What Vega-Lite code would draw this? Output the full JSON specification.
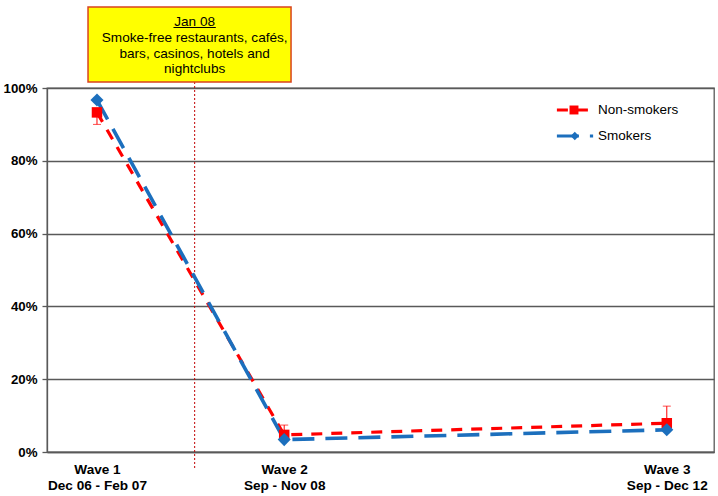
{
  "$schema": "https://vega.github.io/schema/vega-lite/v6.json",
  "width": 667,
  "height": 364,
  "autosize": {"type": "none"},
  "padding": {"left": 47, "top": 88, "right": 4, "bottom": 44},
  "background": "white",
  "config": {
    "font": "Liberation Sans",
    "view": {"stroke": "#595959", "strokeWidth": 1.3}
  },
  "datasets": {
    "survey": [
      {"wave": "Wave 1", "month": 12, "group": "Non-smokers", "value": 0.933, "err": 0.900},
      {"wave": "Wave 2", "month": 35, "group": "Non-smokers", "value": 0.047, "err": 0.074},
      {"wave": "Wave 3", "month": 82, "group": "Non-smokers", "value": 0.079, "err": 0.126},
      {"wave": "Wave 1", "month": 12, "group": "Smokers", "value": 0.967},
      {"wave": "Wave 2", "month": 35, "group": "Smokers", "value": 0.034},
      {"wave": "Wave 3", "month": 82, "group": "Smokers", "value": 0.061}
    ],
    "event": [
      {"month": 24, "date": "Jan 08", "desc": "Jan 08\nSmoke-free restaurants, cafés,\nbars, casinos, hotels and\nnightclubs"}
    ],
    "legend": [
      {"group": "Non-smokers"},
      {"group": "Smokers"}
    ]
  },
  "encoding": {
    "x": {
      "type": "quantitative",
      "scale": {"domain": [5.86, 87.8], "nice": false, "zero": false},
      "axis": {
        "title": null,
        "values": [12, 35, 82],
        "labelExpr": "datum.value == 12 ? ['Wave 1', 'Dec 06 - Feb 07'] : datum.value == 35 ? ['Wave 2', 'Sep - Nov 08'] : ['Wave 3', 'Sep - Dec 12']",
        "labelFont": "Liberation Sans",
        "labelFontSize": 13.6,
        "labelFontWeight": "bold",
        "labelColor": "#000000",
        "labelLineHeight": 16,
        "labelBaseline": "top",
        "labelPadding": 10,
        "labelFlush": false,
        "labelOverlap": false,
        "ticks": false,
        "grid": false,
        "domain": true,
        "domainColor": "#595959",
        "domainWidth": 1.3
      }
    },
    "y": {
      "type": "quantitative",
      "scale": {"domain": [0, 1], "nice": false},
      "axis": {
        "title": null,
        "values": [0, 0.2, 0.4, 0.6, 0.8, 1],
        "format": ".0%",
        "labelFont": "Liberation Sans",
        "labelFontSize": 13.3,
        "labelFontWeight": "bold",
        "labelColor": "#000000",
        "labelPadding": 5,
        "tickSize": 5,
        "tickColor": "#595959",
        "tickWidth": 1.3,
        "grid": true,
        "gridColor": "#595959",
        "gridWidth": 1.3,
        "domainColor": "#595959",
        "domainWidth": 1.3
      }
    }
  },
  "layer": [
    {
      "data": {"name": "event"},
      "mark": {"type": "rule", "color": "#c00000", "strokeWidth": 1, "strokeDash": [2, 2]},
      "encoding": {
        "x": {"field": "month", "type": "quantitative"},
        "y": {"datum": 1.0165},
        "y2": {"datum": -0.047}
      }
    },
    {
      "data": {"name": "survey"},
      "transform": [{"filter": "datum.group == 'Non-smokers'"}],
      "mark": {"type": "line", "color": "#ff0000", "strokeWidth": 3.2, "strokeDash": [11, 9]},
      "encoding": {
        "x": {"field": "month", "type": "quantitative"},
        "y": {"field": "value", "type": "quantitative"}
      }
    },
    {
      "data": {"name": "survey"},
      "transform": [{"filter": "datum.group == 'Smokers'"}],
      "mark": {"type": "line", "color": "#1c6fbd", "strokeWidth": 3.6, "strokeDash": [22, 11]},
      "encoding": {
        "x": {"field": "month", "type": "quantitative"},
        "y": {"field": "value", "type": "quantitative"}
      }
    },
    {
      "data": {"name": "survey"},
      "transform": [{"filter": "datum.group == 'Non-smokers'"}],
      "mark": {"type": "rule", "color": "#ff0000", "strokeWidth": 1},
      "encoding": {
        "x": {"field": "month", "type": "quantitative"},
        "y": {"field": "value", "type": "quantitative"},
        "y2": {"field": "err"}
      }
    },
    {
      "data": {"name": "survey"},
      "transform": [{"filter": "datum.group == 'Non-smokers'"}],
      "mark": {"type": "tick", "color": "#ff0000", "orient": "horizontal", "size": 8, "thickness": 1},
      "encoding": {
        "x": {"field": "month", "type": "quantitative"},
        "y": {"field": "err", "type": "quantitative"}
      }
    },
    {
      "data": {"name": "survey"},
      "transform": [{"filter": "datum.group == 'Non-smokers'"}],
      "mark": {"type": "point", "shape": "square", "filled": true, "color": "#ff0000", "size": 110, "opacity": 1},
      "encoding": {
        "x": {"field": "month", "type": "quantitative"},
        "y": {"field": "value", "type": "quantitative"}
      }
    },
    {
      "data": {"name": "survey"},
      "transform": [{"filter": "datum.group == 'Smokers'"}],
      "mark": {"type": "point", "shape": "diamond", "filled": true, "color": "#1c6fbd", "size": 170, "opacity": 1},
      "encoding": {
        "x": {"field": "month", "type": "quantitative"},
        "y": {"field": "value", "type": "quantitative"}
      }
    },
    {
      "data": {"name": "event"},
      "mark": {"type": "rect", "fill": "#ffff00", "stroke": "#d9431e", "strokeWidth": 1.5},
      "encoding": {
        "x": {"datum": 10.9},
        "x2": {"datum": 35.84},
        "y": {"datum": 1.0165},
        "y2": {"datum": 1.2225}
      }
    },
    {
      "data": {"name": "event"},
      "mark": {"type": "text", "font": "Liberation Sans", "fontSize": 13.6, "color": "#000000", "align": "center", "baseline": "middle", "lineBreak": "\n", "lineHeight": 15.9},
      "encoding": {
        "x": {"field": "month", "type": "quantitative"},
        "y": {"datum": 1.1821},
        "text": {"field": "desc"}
      }
    },
    {
      "data": {"name": "event"},
      "mark": {"type": "rule", "color": "#000000", "strokeWidth": 1},
      "encoding": {
        "x": {"datum": 21.4},
        "x2": {"datum": 26.6},
        "y": {"datum": 1.1662}
      }
    },
    {
      "data": {"name": "legend"},
      "transform": [{"filter": "datum.group == 'Non-smokers'"}],
      "mark": {"type": "rule", "color": "#ff0000", "strokeWidth": 3, "strokeDash": [11, 9]},
      "encoding": {
        "x": {"datum": 68.5},
        "x2": {"datum": 72.5},
        "y": {"datum": 0.9396}
      }
    },
    {
      "data": {"name": "legend"},
      "transform": [{"filter": "datum.group == 'Non-smokers'"}],
      "mark": {"type": "point", "shape": "square", "filled": true, "color": "#ff0000", "size": 80, "opacity": 1},
      "encoding": {
        "x": {"datum": 70.6},
        "y": {"datum": 0.9396}
      }
    },
    {
      "data": {"name": "legend"},
      "transform": [{"filter": "datum.group == 'Non-smokers'"}],
      "mark": {"type": "text", "font": "Liberation Sans", "fontSize": 13.5, "color": "#000000", "align": "left", "baseline": "middle"},
      "encoding": {
        "x": {"datum": 73.55},
        "y": {"datum": 0.9396},
        "text": {"field": "group"}
      }
    },
    {
      "data": {"name": "legend"},
      "transform": [{"filter": "datum.group == 'Smokers'"}],
      "mark": {"type": "rule", "color": "#1c6fbd", "strokeWidth": 3, "strokeDash": [22, 11]},
      "encoding": {
        "x": {"datum": 68.5},
        "x2": {"datum": 72.95},
        "y": {"datum": 0.8681}
      }
    },
    {
      "data": {"name": "legend"},
      "transform": [{"filter": "datum.group == 'Smokers'"}],
      "mark": {"type": "point", "shape": "diamond", "filled": true, "color": "#1c6fbd", "size": 70, "opacity": 1},
      "encoding": {
        "x": {"datum": 70.7},
        "y": {"datum": 0.8681}
      }
    },
    {
      "data": {"name": "legend"},
      "transform": [{"filter": "datum.group == 'Smokers'"}],
      "mark": {"type": "text", "font": "Liberation Sans", "fontSize": 13.5, "color": "#000000", "align": "left", "baseline": "middle"},
      "encoding": {
        "x": {"datum": 73.55},
        "y": {"datum": 0.8681},
        "text": {"field": "group"}
      }
    }
  ]
}
